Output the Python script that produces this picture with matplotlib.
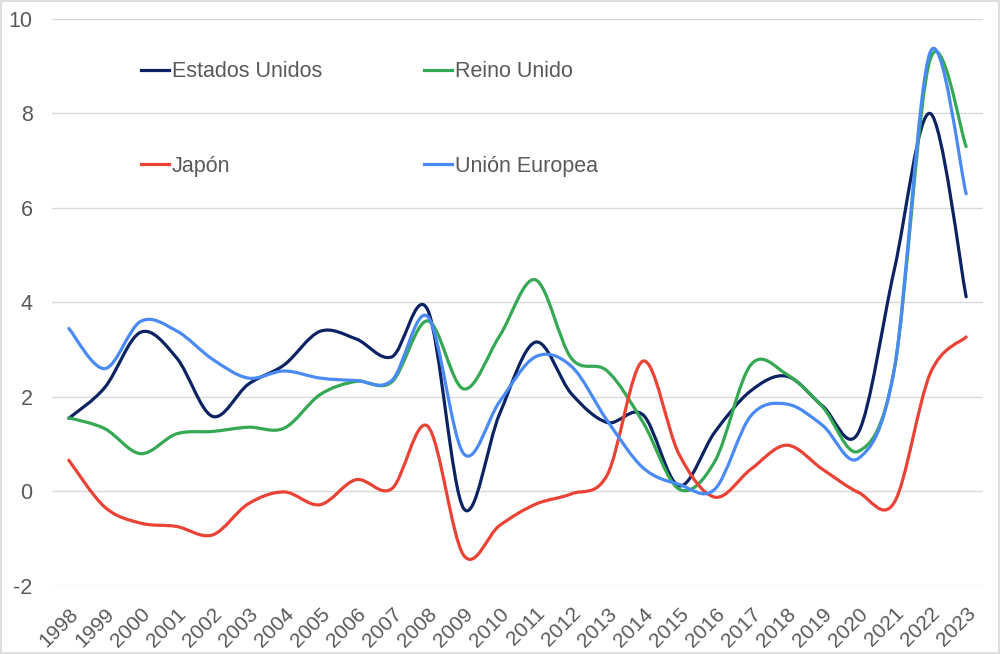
import matplotlib
matplotlib.use("Agg")
import matplotlib.pyplot as plt
from matplotlib.path import Path
from matplotlib.patches import PathPatch, Rectangle
from matplotlib.lines import Line2D
import numpy as np

plt.rcParams['font.family'] = ['Liberation Sans', 'DejaVu Sans']
plt.rcParams['axes.unicode_minus'] = False

years = list(range(1998, 2024))
estados_unidos = [1.55, 2.2, 3.37, 2.83, 1.59, 2.27, 2.68, 3.39, 3.23, 2.85, 3.84, -0.36, 1.64,
                  3.16, 2.07, 1.46, 1.62, 0.12, 1.26, 2.13, 2.44, 1.81, 1.25, 4.70, 8.0, 4.12]
reino_unido = [1.56, 1.33, 0.80, 1.22, 1.27, 1.36, 1.34, 2.05, 2.33, 2.32, 3.61, 2.17, 3.29,
               4.48, 2.82, 2.55, 1.46, 0.05, 0.64, 2.68, 2.48, 1.79, 0.85, 2.59, 9.15, 7.3]
japon = [0.66, -0.33, -0.67, -0.74, -0.92, -0.26, -0.01, -0.28, 0.25, 0.06, 1.38, -1.35, -0.72,
         -0.27, -0.05, 0.35, 2.76, 0.79, -0.12, 0.47, 0.98, 0.47, -0.02, -0.23, 2.5, 3.27]
union_europea = [3.45, 2.6, 3.6, 3.4, 2.8, 2.4, 2.55, 2.4, 2.35, 2.35, 3.7, 0.8, 1.9,
                 2.85, 2.65, 1.5, 0.5, 0.15, 0.05, 1.6, 1.85, 1.4, 0.7, 2.6, 9.3, 6.3]

series = [
    ("Estados Unidos", estados_unidos, "#0b2362"),
    ("Reino Unido", reino_unido, "#34a853"),
    ("Japón", japon, "#ea4335"),
    ("Unión Europea", union_europea, "#4a8af4"),
]


def smooth_path(x, y):
    # Excel-like smoothed line: cubic bezier through every point
    pts = np.column_stack([x, y]).astype(float)
    n = len(pts)
    verts = [pts[0]]
    codes = [Path.MOVETO]
    for i in range(n - 1):
        p0 = pts[i - 1] if i > 0 else pts[i]
        p1 = pts[i]
        p2 = pts[i + 1]
        p3 = pts[i + 2] if i + 2 < n else pts[i + 1]
        c1 = p1 + (p2 - p0) / 6.0
        c2 = p2 - (p3 - p1) / 6.0
        verts += [c1, c2, p2]
        codes += [Path.CURVE4] * 3
    return Path(verts, codes)


fig = plt.figure(figsize=(10, 6.54), dpi=100)
ax = fig.add_axes([0.052, 0.104, 0.931, 0.867])

xs = np.arange(len(years))
for name, vals, col in series:
    ax.add_patch(PathPatch(smooth_path(xs, vals), facecolor='none', edgecolor=col,
                           lw=2.3, capstyle='round', joinstyle='round', zorder=3))

ax.set_xlim(-0.47, len(years) - 1 + 0.47)
ax.set_ylim(-2, 10)
ax.set_yticks(range(-2, 11, 2))
ax.set_xticks(xs)
ax.set_xticklabels([str(y) for y in years], rotation=45, ha='right', rotation_mode='anchor')
ax.tick_params(axis='both', length=0, labelsize=15.5, labelcolor='#595959')
ax.tick_params(axis='x', labelsize=15, pad=13)
ax.tick_params(axis='y', pad=14)
ax.grid(axis='y', color='#d9d9d9', lw=1)
ax.set_axisbelow(True)
for s in ax.spines.values():
    s.set_visible(False)

handles = {name: Line2D([], [], color=col, lw=2.3) for name, _, col in series}
order = ["Estados Unidos", "Japón", "Reino Unido", "Unión Europea"]
ax.legend([handles[k] for k in order], order, ncol=2, loc='upper left',
          bbox_to_anchor=(0.0955, 0.925), frameon=False, fontsize=15.5,
          labelcolor='#595959', handlelength=1.3, handletextpad=0.14,
          labelspacing=3.4, columnspacing=4.75, borderpad=0, borderaxespad=0)

fig.patches.append(Rectangle((0.001, 0.0015), 0.998, 0.997, transform=fig.transFigure,
                             fill=False, edgecolor='#d9d9d9', lw=1.2))

fig.savefig("out.png", dpi=100)
